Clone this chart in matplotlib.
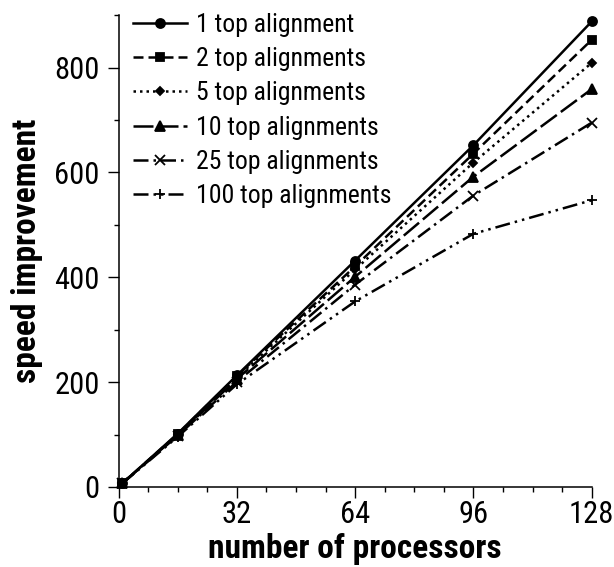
import matplotlib
matplotlib.use('Agg')
import matplotlib.pyplot as plt
from matplotlib import font_manager
from matplotlib.ticker import MultipleLocator

# Data
processors = [1, 16, 32, 64, 96, 128]
labels = ['1 top alignment', '2 top alignments', '5 top alignments',
          '10 top alignments', '25 top alignments', '100 top alignments']
speed_1 = [7, 102, 213, 432, 652, 888]
speed_2 = [7, 101, 212, 421, 636, 853]
speed_5 = [7, 100, 209, 415, 619, 809]
speed_10 = [7, 99, 206, 401, 592, 759]
speed_25 = [7, 98, 201, 386, 556, 695]
speed_100 = [7, 96, 196, 354, 483, 547]
series = [speed_1, speed_2, speed_5, speed_10, speed_25, speed_100]

# line style, marker, marker size
styles = [
    ('-', 'o', 6.5),
    ((0, (4, 2)), 's', 6),
    ((0, (1, 1.6)), 'D', 4.5),
    ((0, (8, 2)), '^', 7),
    ((0, (6, 2, 1, 2)), 'x', 7),
    ((0, (6, 2, 1, 2, 1, 2)), '+', 7),
]

names = {f.name for f in font_manager.fontManager.ttflist}
family = 'DejaVu Sans'
for cand in ['Liberation Sans Narrow', 'Roboto Condensed', 'DejaVu Sans Condensed']:
    if cand in names:
        family = cand
        break
plt.rcParams['font.family'] = [family, 'DejaVu Sans']

fig = plt.figure(figsize=(6.14, 5.67), dpi=100)
ax = fig.add_axes([0.1932, 0.1411, 0.7705, 0.8321])

for ys, lab, (ls, mk, ms) in zip(series, labels, styles):
    ax.plot(processors, ys, color='black', linestyle=ls, linewidth=1.8,
            marker=mk, markersize=ms, markeredgewidth=1.3, label=lab,
            clip_on=False)

ax.set_xlim(0, 128)
ax.set_ylim(0, 900)
ax.xaxis.set_major_locator(MultipleLocator(32))
ax.xaxis.set_minor_locator(MultipleLocator(8))
ax.yaxis.set_major_locator(MultipleLocator(200))
ax.yaxis.set_minor_locator(MultipleLocator(100))
ax.tick_params(which='major', length=8, width=1.0, labelsize=22)
ax.tick_params(which='minor', length=3.5, width=1.0)
ax.tick_params(axis='x', pad=1.5)
ax.tick_params(axis='y', pad=5.5)
for s in ['top', 'right']:
    ax.spines[s].set_visible(False)
for s in ['left', 'bottom']:
    ax.spines[s].set_linewidth(1.1)

ax.set_xlabel('number of processors', fontsize=24, fontweight='bold', labelpad=2.5)
ax.set_ylabel('speed improvement', fontsize=24, fontweight='bold', labelpad=8)

ax.legend(loc='upper left', bbox_to_anchor=(0.03, 1.005), frameon=False,
          fontsize=18.5, handlelength=2.1, handletextpad=0.35, labelspacing=0.4,
          borderaxespad=0, borderpad=0)

fig.savefig('out.png', dpi=100)
